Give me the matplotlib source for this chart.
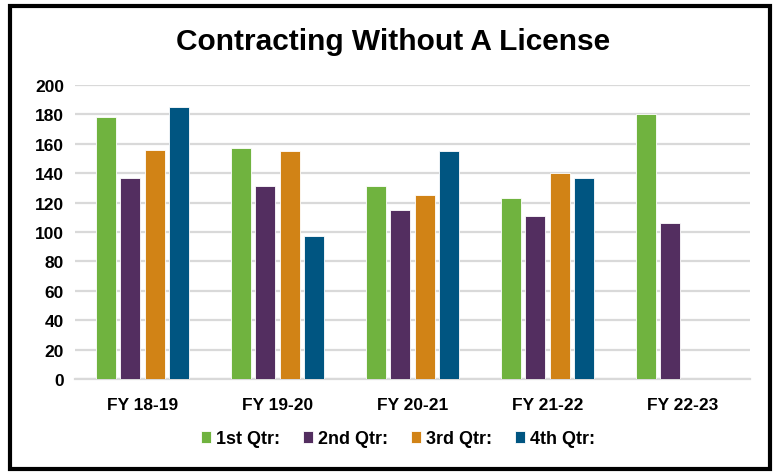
import numpy as np
import matplotlib.pyplot as plt
from matplotlib.patches import Rectangle

plt.rcParams['font.family'] = ['Liberation Sans', 'DejaVu Sans']
plt.rcParams['font.weight'] = 'bold'

years = ['FY 18-19', 'FY 19-20', 'FY 20-21', 'FY 21-22', 'FY 22-23']
q1 = [178, 157, 131, 123, 180]
q2 = [137, 131, 115, 111, 106]
q3 = [156, 155, 125, 140, np.nan]
q4 = [185, 97, 155, 137, np.nan]
labels = ['1st Qtr:', '2nd Qtr:', '3rd Qtr:', '4th Qtr:']
colors = ['#70B33F', '#532E60', '#D18316', '#005581']

fig = plt.figure(figsize=(7.75, 4.77), dpi=100)
ax = fig.add_axes([75 / 775, 1 - 380 / 477, 675 / 775, 294 / 477])

x = np.arange(len(years))
width = 0.15
step = 0.18
for i, (vals, lab, col) in enumerate(zip([q1, q2, q3, q4], labels, colors)):
    ax.bar(x + (i - 1.5) * step, vals, width, color=col, label=lab,
           edgecolor='white', linewidth=0.6, zorder=3)

ax.set_xlim(-0.5, len(years) - 0.5)
ax.set_ylim(0, 200)
ax.set_yticks(range(0, 201, 20))
ax.set_xticks(x)
ax.set_xticklabels(years)
ax.tick_params(axis='both', length=0, labelsize=12.5)
ax.tick_params(axis='x', pad=13)
ax.tick_params(axis='y', pad=8)
ax.grid(axis='y', color='#D9D9D9', linewidth=1.6, zorder=0)
for s in ['top', 'right', 'left']:
    ax.spines[s].set_visible(False)
ax.spines['bottom'].set_color('#D9D9D9')
ax.spines['bottom'].set_linewidth(1.6)

fig.text(393 / 775, 1 - 42 / 477, 'Contracting Without A License',
         ha='center', va='center', fontsize=21.5, fontweight='bold')

ax.legend(loc='center', bbox_to_anchor=((398 - 75) / 675, (380 - 440) / 294), ncol=4,
          frameon=False, fontsize=13, handlelength=0.55, handleheight=0.6,
          handletextpad=0.25, columnspacing=1.3)

fig.patches.append(Rectangle((10 / 775, 7 / 477), 760 / 775, 463 / 477,
                             transform=fig.transFigure, fill=False,
                             edgecolor='black', linewidth=3))

fig.savefig('out.png', dpi=100)
